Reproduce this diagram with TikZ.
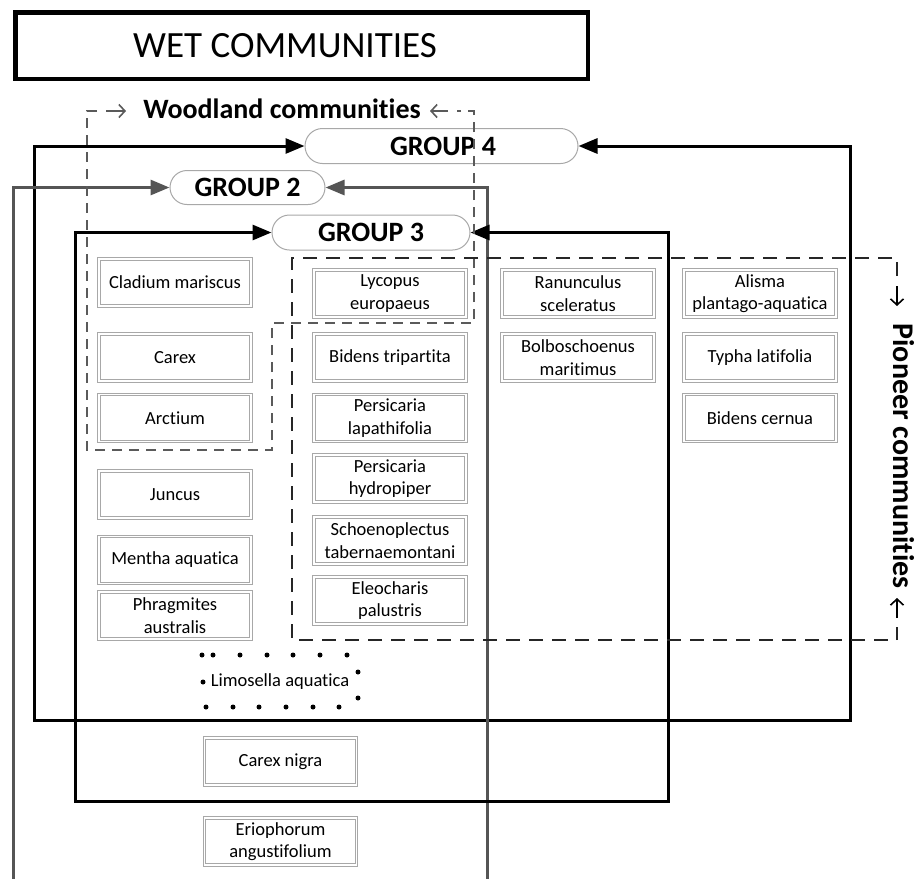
\documentclass[tikz,border=0pt]{standalone}
\usepackage{fontspec}
\setmainfont{Carlito}[Ligatures={NoCommon,NoRequired,NoContextual}, RawFeature={-liga;-clig;-dlig;-calt}]
\usetikzlibrary{arrows.meta,shapes.misc}
\definecolor{boxgray}{HTML}{A8A8A8}
\definecolor{g2gray}{HTML}{555555}
\definecolor{woodgray}{HTML}{5A5A5A}
\tikzset{gtip/.tip={Triangle[length=19pt,width=15pt]}}
\begin{document}
\begin{tikzpicture}[x=1pt,y=-1pt,
  sp/.style={draw=boxgray, line width=1.1pt, double=white, double distance=1.6pt,
    minimum width=152pt, minimum height=47pt, inner sep=0pt, align=center,
    font=\fontsize{18.5}{22.5}\selectfont},
  pill/.style={rounded rectangle, draw=boxgray, line width=1pt, fill=white,
    inner sep=0pt, font=\fontsize{28}{32}\selectfont\bfseries},
  frame/.style={line width=3pt, black, line join=miter},
  frametwo/.style={line width=3pt, g2gray},
  wood/.style={line width=2pt, woodgray, dash pattern=on 10pt off 7pt},
  pio/.style={line width=2.4pt, black!85, dash pattern=on 14pt off 9pt},
  glyph/.style={line width=1.6pt, -{Straight Barb[length=6pt,width=13pt]}},
  dot/.style={fill=black, circle, inner sep=0pt, minimum size=5pt}
]
\useasboundingbox (0,0) rectangle (922,879);

% title
\node[draw, line width=4.5pt, minimum width=572.5pt, minimum height=66.5pt, inner sep=0pt] (titlebox) at (301.5,45.5) {};
\node[font=\fontsize{37}{44}\selectfont, inner sep=0pt] (titletext) at (285,46) {WET COMMUNITIES};

% group pills
\node[pill, minimum width=273pt, minimum height=35pt] (g4) at (441.5,146) {\hspace*{3pt}GROUP 4};
\node[pill, minimum width=155pt, minimum height=34pt] (g2) at (247.5,187.5) {GROUP 2};
\node[pill, minimum width=198pt, minimum height=35pt] (g3) at (371,232.5) {GROUP 3};

% frame corners
\coordinate (g4a) at (34,146);
\coordinate (g4b) at (34,720);
\coordinate (g4c) at (850,720);
\coordinate (g4d) at (850,146);
\coordinate (g2a) at (13,187.5);
\coordinate (g2b) at (13,879);
\coordinate (g2c) at (487,187.5);
\coordinate (g2d) at (487,879);
\coordinate (g3a) at (75,232.5);
\coordinate (g3b) at (75,801);
\coordinate (g3c) at (668,801);
\coordinate (g3d) at (668,232.5);

\draw[frame, {gtip}-{gtip}] (g4.west) -- (g4a) -- (g4b) -- (g4c) -- (g4d) -- (g4.east);
\draw[frametwo, {gtip}-] (g2.west) -- (g2a) -- (g2b);
\draw[frametwo, {gtip}-] (g2.east) -- (g2c) -- (g2d);
\draw[frame, {gtip}-{gtip}] (g3.west) -- (g3a) -- (g3b) -- (g3c) -- (g3d) -- (g3.east);

% woodland communities
\node[font=\fontsize{28}{32}\selectfont\bfseries, inner sep=0pt] (woodtext) at (282,109) {Woodland communities};
\coordinate (w1) at (87,111);
\coordinate (w1b) at (97,111);
\coordinate (w2) at (106,111);
\coordinate (w3) at (126,111);
\coordinate (w4) at (448,111);
\coordinate (w5) at (430,111);
\coordinate (w6) at (457,111);
\coordinate (w7) at (474,111);
\coordinate (w8) at (474,323);
\coordinate (w9) at (272,323);
\coordinate (w10) at (272,450);
\coordinate (w11) at (87,450);
\draw[wood] (w1b) -- (w1) -- (w11) -- (w10) -- (w9) -- (w8) -- (w7) -- (w6);
\draw[glyph, woodgray] (w2) -- (w3);
\draw[glyph, woodgray] (w4) -- (w5);

% pioneer communities
\node[font=\fontsize{30}{34}\selectfont\bfseries, inner sep=0pt, rotate=-90] (piotext) at (904,456) {Pioneer communities};
\coordinate (p1) at (292,640);
\coordinate (p2) at (292,258);
\coordinate (p3) at (897,258);
\coordinate (p4) at (897,276);
\coordinate (p5) at (897,286);
\coordinate (p6) at (897,306);
\coordinate (p7) at (897,618);
\coordinate (p8) at (897,598);
\coordinate (p9) at (897,627);
\coordinate (p10) at (897,640);
\draw[pio] (p4) -- (p3) -- (p2) -- (p1) -- (p10) -- (p9);
\draw[glyph, black] (p5) -- (p6);
\draw[glyph, black] (p7) -- (p8);

% species column 1
\node[sp] (cladium) at (175,282.5) {Cladium mariscus};
\node[sp] (carex) at (175,357.5) {Carex};
\node[sp] (arctium) at (175,418) {Arctium};
\node[sp] (juncus) at (175,494.5) {Juncus};
\node[sp] (mentha) at (175,560) {Mentha aquatica};
\node[sp] (phrag) at (175,615.5) {Phragmites\\australis};
% column 2
\node[sp] (lycopus) at (390,293.5) {Lycopus\\europaeus};
\node[sp] (bidtri) at (390,357.5) {Bidens tripartita};
\node[sp] (perlap) at (390,418) {Persicaria\\lapathifolia};
\node[sp] (perhyd) at (390,478.5) {Persicaria\\hydropiper};
\node[sp] (schoen) at (390,540.5) {Schoenoplectus\\tabernaemontani};
\node[sp] (eleo) at (390,600.5) {Eleocharis\\palustris};
% column 3
\node[sp] (ranun) at (578,293.5) {Ranunculus\\sceleratus};
\node[sp] (bolbo) at (578,357.5) {Bolboschoenus\\maritimus};
% column 4
\node[sp] (alisma) at (760,293.5) {Alisma\\plantago-aquatica};
\node[sp] (typha) at (760,357.5) {Typha latifolia};
\node[sp] (bidcer) at (760,418) {Bidens cernua};
% bottom
\node[sp] (carexn) at (280.5,761.5) {Carex nigra};
\node[sp] (erio) at (280.5,841.5) {Eriophorum\\angustifolium};

% Limosella
\node[font=\fontsize{18.5}{22.5}\selectfont, inner sep=0pt] (limo) at (280,682) {Limosella aquatica};
\foreach \px/\py in {202/655,213/655,240/655,267/655,293/655,320/655,347/655,
    203/682,358/672,358/698,206/707,233/707,259/707,286/707,313/707,339/707}
  \node[dot] at (\px,\py) {};
\end{tikzpicture}
\end{document}
